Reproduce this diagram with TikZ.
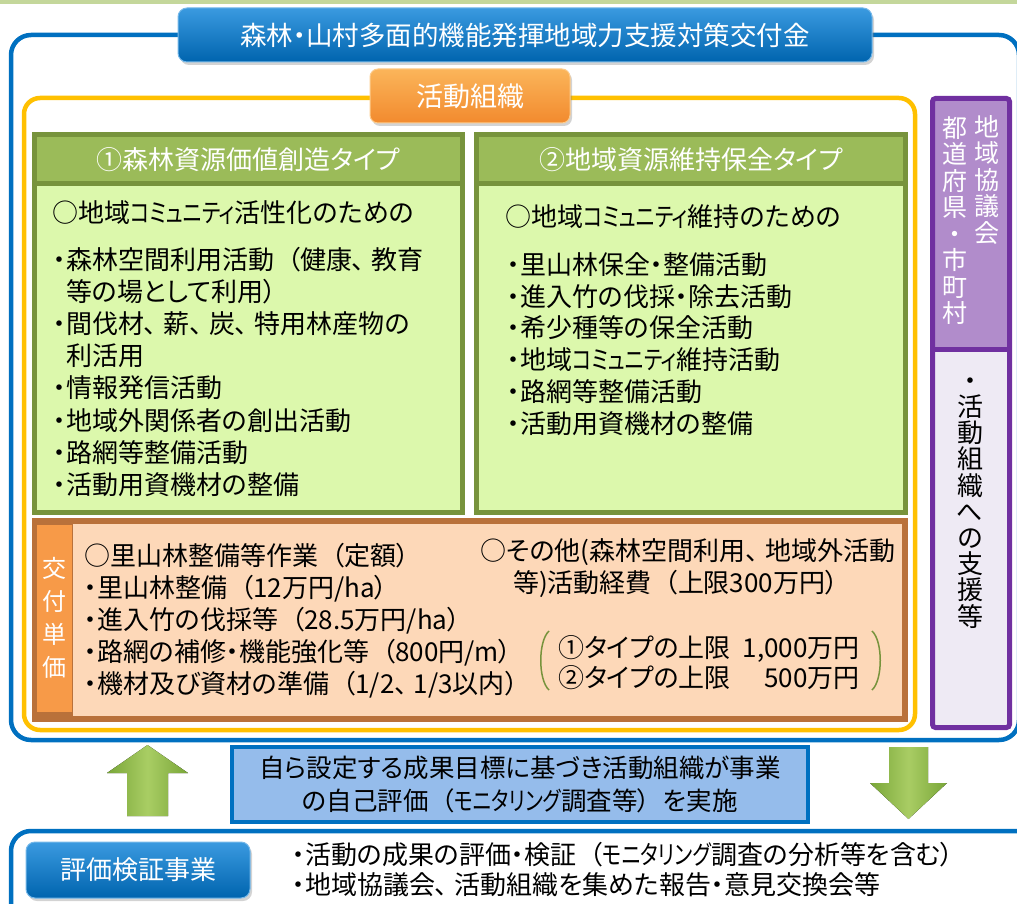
\documentclass[tikz,border=0pt]{standalone}
\usepackage{fontspec}
\usepackage{graphicx}
\setmainfont{Noto Sans CJK JP}[RawFeature=+palt]
\usetikzlibrary{shadows}
\newcommand\LP{\hspace{0.5em}（}
\newcommand\RP{）\hspace{0.5em}}
\newcommand\CM{、\hspace{0.25em}}
\newcommand\KN[1]{\scalebox{0.78}[1]{#1}}
\definecolor{band}{HTML}{C4D79B}
\definecolor{bline}{HTML}{0070C0}
\definecolor{yline}{HTML}{FFC000}
\definecolor{gbord}{HTML}{77933C}
\definecolor{ghead}{HTML}{9BBB59}
\definecolor{gbody}{HTML}{DCF8AC}
\definecolor{obord}{HTML}{B9713A}
\definecolor{obody}{HTML}{FDD8B8}
\definecolor{ostrip}{HTML}{F79A48}
\definecolor{pbord}{HTML}{7030A0}
\definecolor{ptop}{HTML}{B18CCB}
\definecolor{pbot}{HTML}{EEEAF4}
\definecolor{mbox}{HTML}{95BCEB}
\definecolor{btop}{HTML}{3A9AE0}
\definecolor{bbot}{HTML}{0064AE}
\definecolor{otop}{HTML}{FBB55A}
\definecolor{obot}{HTML}{F28A2E}
\definecolor{arrowe}{HTML}{79A638}
\definecolor{arrowm}{HTML}{A9CD64}
\begin{document}
\begin{tikzpicture}[x=1pt,y=-1pt,
  txt/.style={font=\fontsize{26}{32}\selectfont, inner sep=0pt, anchor=base west},
  vtxt/.style={font=\fontsize{25}{26.5}\selectfont, inner sep=0pt, align=center},
  btn/.style={rounded corners=9pt, top color=btop, bottom color=bbot, draw=btop!70!white,
    line width=1pt, text=white, inner sep=0pt, font=\fontsize{26.5}{30}\selectfont,
    drop shadow={shadow xshift=2pt, shadow yshift=-3pt, opacity=0.35}},
  obtn/.style={rounded corners=8pt, top color=otop, bottom color=obot, draw=otop!70!white,
    line width=1pt, text=white, inner sep=0pt, font=\fontsize{27}{30}\selectfont,
    drop shadow={shadow xshift=2pt, shadow yshift=-3pt, opacity=0.35}},
  gframe/.style={draw=gbord, line width=5pt, fill=gbody, inner sep=0pt,
    drop shadow={shadow xshift=2pt, shadow yshift=-2pt, opacity=0.25}},
  ghd/.style={draw=gbord, line width=5pt, fill=ghead, inner sep=0pt, text=white,
    font=\fontsize{26}{30}\selectfont},
  garrow/.style={left color=arrowe, right color=arrowe, middle color=arrowm},
]
\useasboundingbox (0,0) rectangle (1017,904);
\clip (0,0) rectangle (1017,904);
\fill[band] (0,0) rectangle (1017,4);

% outer blue frame
\draw[bline, line width=4.5pt, rounded corners=20pt] (11,35) rectangle (1019,740);
\node[btn, minimum width=694pt, minimum height=54pt] (title) at (525,35) {森林・山村多面的機能発揮地域力支援対策交付金};

% yellow frame
\draw[yline, line width=4.5pt, rounded corners=16pt] (24,98) rectangle (915,730);
\node[obtn, minimum width=200pt, minimum height=54pt] (org) at (470,96) {活動組織};

% green box 1
\node[gframe, minimum width=428pt, minimum height=378pt] (g1) at (248.5,323.5) {};
\node[ghd, minimum width=428pt, minimum height=49.5pt, anchor=north] (g1h) at (g1.north) {①森林資源価値創造タイプ};
\node[txt] (g1a) at (52,222.5) {○地域\KN{コミュニティ}活性化のための};
\foreach \t [count=\i from 0] in {{・森林空間利用活動\LP{}健康\CM{}教育},{\phantom{・}等の場として利用）},{・間伐材\CM{}薪\CM{}炭\CM{}特用林産物の},{\phantom{・}利活用},{・情報発信活動},{・地域外関係者の創出活動},{・路網等整備活動},{・活動用資機材の整備}}
  \node[txt] (g1l\i) at (53,{269.5+32.1*\i}) {\t};

% green box 2
\node[gframe, minimum width=429pt, minimum height=378pt] (g2) at (691,323.5) {};
\node[ghd, minimum width=429pt, minimum height=49.5pt, anchor=north] (g2h) at (g2.north) {②地域資源維持保全タイプ};
\node[txt] (g2a) at (505,226.5) {○地域\KN{コミュニティ}維持のための};
\foreach \t [count=\i from 0] in {{・里山林保全・整備活動},{・進入竹の伐採・除去活動},{・希少種等の保全活動},{・地域\KN{コミュニティ}維持活動},{・路網等整備活動},{・活動用資機材の整備}}
  \node[txt] (g2l\i) at (507,{274.5+31.7*\i}) {\t};

% orange box
\node[draw=obord, line width=6pt, fill=obody, minimum width=870pt, minimum height=198pt, inner sep=0pt,
  drop shadow={shadow xshift=2pt, shadow yshift=-2pt, opacity=0.25}] (ob) at (470,620) {};
\fill[obord] (35,521) rectangle (73,719);
\node[fill=ostrip, minimum width=35pt, minimum height=187pt, inner sep=0pt] (strip) at (54.5,618.5) {};
\node[vtxt, text=white, font=\fontsize{24}{33}\selectfont] (stript) at (54.5,618) {交\\付\\単\\価};
\foreach \t [count=\i from 0] in {{○里山林整備等作業\LP{}定額）},{・里山林整備\LP{}12万円/ha）},{・進入竹の伐採等\LP{}28.5万円/ha）},{・路網の補修・機能強化等\LP{}800円/m）},{・機材及び資材の準備\LP{}1/2\CM{}1/3以内）}}
  \node[txt] (ol\i) at (84,{565+32*\i}) {\t};
\node[txt] (oo1) at (480,560) {○その他(森林空間利用\CM{}地域外活動};
\node[txt] (oo2) at (513,592) {等)活動経費\LP{}上限300万円）};
\node[txt] (ot1) at (558,657) {①タイプの上限};
\node[txt] (ot2) at (558,687) {②タイプの上限};
\node[txt, anchor=base east] (oa1) at (860,657) {1,000万円};
\node[txt, anchor=base east] (oa2) at (860,687) {500万円};
\draw[gbord, line width=1.5pt] (549,631) .. controls (538,641) and (538,680) .. (549,690);
\draw[gbord, line width=1.5pt] (872,631) .. controls (883,641) and (883,680) .. (872,690);

% purple column
\fill[ptop] (932.5,98.5) rectangle (1009.5,349);
\fill[pbot] (932.5,349) rectangle (1009.5,727.5);
\draw[pbord, line width=5pt, rounded corners=3pt] (932.5,98.5) rectangle (1009.5,727.5);
\draw[pbord, line width=5pt] (932.5,349) -- (1009.5,349);
\node[vtxt, text=white] (pr) at (987,180) {地\\域\\協\\議\\会};
\node[vtxt, text=white] (pl) at (955,220.5) {都\\道\\府\\県\\・\\市\\町\\村};
\node[vtxt, font=\fontsize{26}{26.2}\selectfont] (pb) at (970,503) {・\\活\\動\\組\\織\\へ\\の\\支\\援\\等};

% arrows
\fill[garrow] (147.5,745) -- (188,773) -- (168,773) -- (168,816) -- (127,816) -- (127,773) -- (107,773) -- cycle;
\fill[garrow] (889,747) -- (928,747) -- (928,783) -- (947,783) -- (908.5,819) -- (870,783) -- (889,783) -- cycle;

% middle box
\node[draw=bline, line width=4pt, fill=mbox, minimum width=576pt, minimum height=75pt, inner sep=0pt,
  align=center, font=\fontsize{25.5}{33}\selectfont] (mid) at (520,784.5) {自ら設定する成果目標に基づき活動組織が事業\\の自己評価\LP{}\KN{モニタリング}調査等\RP{}を実施};

% bottom frame
\draw[bline, line width=4.5pt, rounded corners=20pt] (11,960) -- (11,831) -- (1060,831);
\node[btn, minimum width=224pt, minimum height=56pt, font=\fontsize{26}{30}\selectfont] (eval) at (138,870) {評価検証事業};
\node[txt] (e1) at (292,864) {・活動の成果の評価・検証\LP{}\KN{モニタリング}調査の分析等を含む）};
\node[txt] (e2) at (292,894) {・地域協議会\CM{}活動組織を集めた報告・意見交換会等};
\end{tikzpicture}
\end{document}
